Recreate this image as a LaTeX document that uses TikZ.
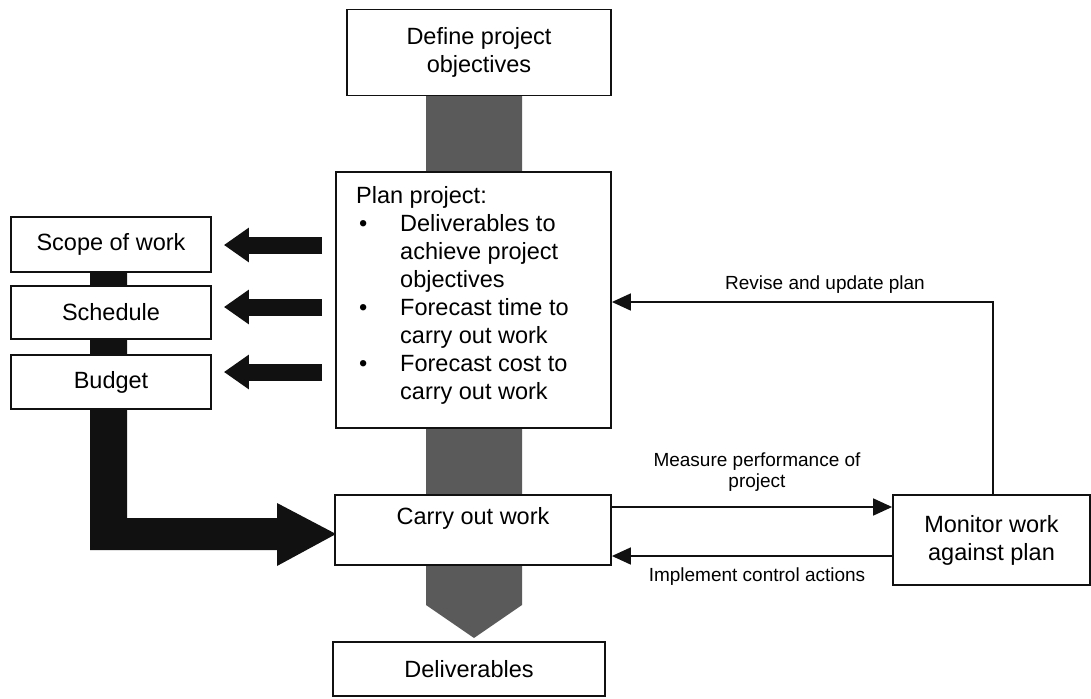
\documentclass[tikz,border=0pt]{standalone}
\usepackage{fontspec}
\setmainfont{Liberation Sans}
\usetikzlibrary{arrows.meta,calc}
\definecolor{barGray}{HTML}{5A5A5A}
\definecolor{inkBlack}{HTML}{111111}
\tikzset{
  boxnode/.style={draw=inkBlack, line width=1.8pt, fill=white, inner sep=0pt, align=center,
    font=\fontsize{23.5}{28}\selectfont},
  bigtext/.style={inner sep=0pt, align=center, font=\fontsize{23.5}{28}\selectfont},
  plainline/.style={inner sep=0pt, anchor=base west, font=\fontsize{23.5}{28}\selectfont},
  smalltext/.style={inner sep=0pt, align=center, font=\fontsize{19}{21}\selectfont},
  blockarrow/.style={draw=inkBlack, line width=17pt, -{Triangle[length=25pt,width=33pt]}, inkBlack},
  thinarrow/.style={draw=inkBlack, line width=1.7pt, -{Triangle[length=19pt,width=17pt]}},
}
\begin{document}
\begin{tikzpicture}[x=1pt,y=-1pt]
\useasboundingbox (0,0) rectangle (1091,698);
% gray main flow band
\fill[barGray] (426,96) -- (522,96) -- (522,605) -- (474,638) -- (426,605) -- cycle;
% black L-shaped band
\fill[inkBlack] (90,250) -- (127,250) -- (127,518) -- (277,518) -- (277,503) -- (336,534)
  -- (277,566) -- (277,550) -- (90,550) -- cycle;
% boxes
\node[boxnode, minimum width=264pt, minimum height=86pt] (define) at (479,52.5) {Define project\\objectives};
\node[boxnode, minimum width=275pt, minimum height=256pt] (plan) at (473.5,300) {};
\node[boxnode, minimum width=276pt, minimum height=70pt] (carry) at (473,530) {};
\node[bigtext] (carrytext) at (473,518) {Carry out work};
\node[boxnode, minimum width=272pt, minimum height=54pt] (deliv) at (469,669) {Deliverables};
\node[boxnode, minimum width=197pt, minimum height=90pt] (monitor) at (991.5,540) {Monitor work\\against plan};
\node[boxnode, minimum width=200pt, minimum height=55pt] (scope) at (111,244.5) {Scope of work};
\node[boxnode, minimum width=200pt, minimum height=53pt] (sched) at (111,312.5) {Schedule};
\node[boxnode, minimum width=200pt, minimum height=54pt] (budget) at (111,382) {Budget};
% plan text
\node[plainline] (plantext) at (356,203) {Plan project:};
\node[plainline] (b1) at (359,231) {\textbullet};
\node[plainline] (b2) at (359,315) {\textbullet};
\node[plainline] (b3) at (359,371) {\textbullet};
\foreach \t/\yy [count=\i] in {Deliverables to/231, achieve project/259, objectives/287, Forecast time to/315,
  carry out work/343, Forecast cost to/371, carry out work/399}
  \node[plainline] (line\i) at (400,\yy) {\t};
% block arrows from plan to outputs
\draw[blockarrow] ([xshift=-13pt,yshift=-0.5pt]plan.west |- scope.east) -- ([xshift=12pt,yshift=-0.5pt]scope.east);
\draw[blockarrow] ([xshift=-13pt,yshift=5.5pt]plan.west |- sched.east) -- ([xshift=12pt,yshift=5.5pt]sched.east);
\draw[blockarrow] ([xshift=-13pt,yshift=10pt]plan.west |- budget.east) -- ([xshift=12pt,yshift=10pt]budget.east);
% control loop
\draw[thinarrow] ([yshift=23pt]carry.east) -- ([yshift=23pt]carry.east -| monitor.west);
\draw[thinarrow] ([yshift=-26pt]carry.east -| monitor.west) -- ([yshift=-26pt]carry.east);
\draw[thinarrow] ([xshift=1.5pt]monitor.north) |- ([yshift=-2pt]plan.east);
% labels
\node[smalltext] (lrevise) at (825,285) {Revise and update plan};
\node[smalltext] (lmeasure) at (757,472) {Measure performance of\\project};
\node[smalltext] (limpl) at (757,577) {Implement control actions};
\end{tikzpicture}
\end{document}
